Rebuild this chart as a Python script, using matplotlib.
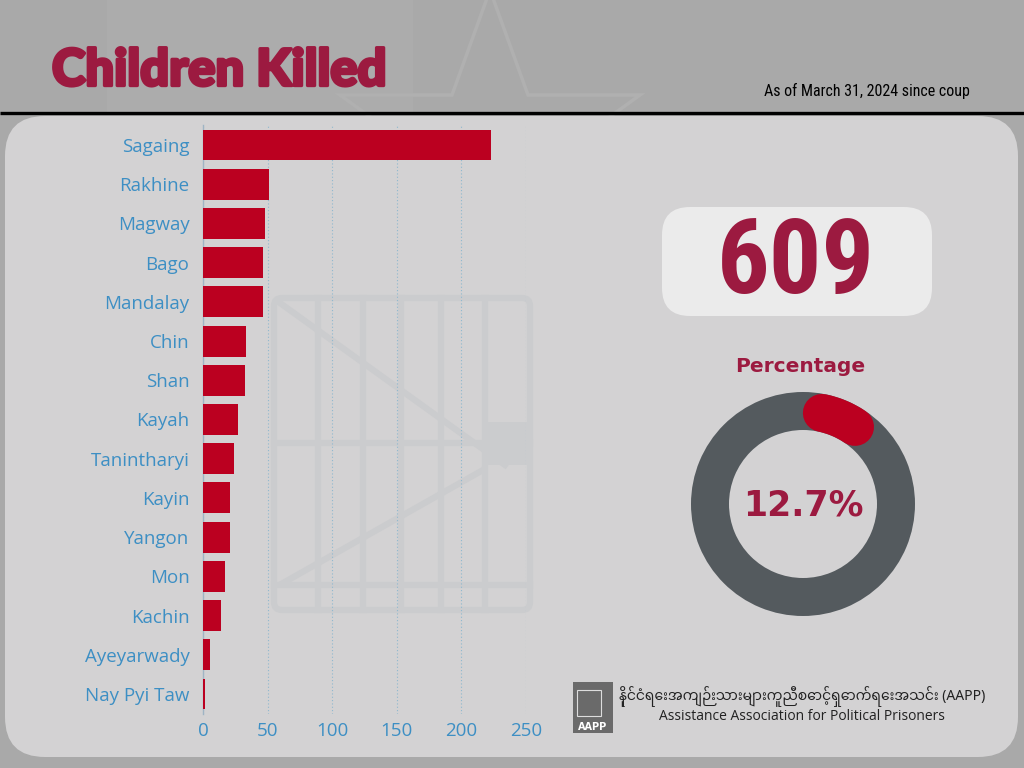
import numpy as np
import matplotlib
matplotlib.use("Agg")
import matplotlib.pyplot as plt
import matplotlib.patheffects as pe
from matplotlib import font_manager
from matplotlib.patches import FancyBboxPatch, Rectangle, Wedge, Polygon

# ── Data ────────────────────────────────────────────────────────────────
regions = ["Sagaing", "Rakhine", "Magway", "Bago", "Mandalay", "Chin", "Shan",
           "Kayah", "Tanintharyi", "Kayin", "Yangon", "Mon", "Kachin",
           "Ayeyarwady", "Nay Pyi Taw"]
children_killed = [223, 51, 48, 46, 46, 33, 32, 27, 24, 21, 21, 17, 14, 5, 1]
x_ticks = [0, 50, 100, 150, 200, 250]
total_killed = 609
share_pct = 12.7

title = "Children Killed"
subtitle = "As of March 31, 2024 since coup"
org_mm = "နိုင်ငံရေးအကျဉ်းသားများကူညီစောင့်ရှောက်ရေးအသင်း (AAPP)"
org_en = "Assistance Association for Political Prisoners"

# ── Style ───────────────────────────────────────────────────────────────
CRIMSON = "#9c1a40"
BAR_RED = "#bb0020"
LABEL_BLUE = "#3d8fc4"
RING_GRAY = "#545a5e"
HEADER_BG = "#a9a9a9"
PANEL_BG = "#d3d2d3"

W, H = 1024, 768
installed = {f.name for f in font_manager.fontManager.ttflist}


def pick(*names):
    for n in names:
        if n in installed:
            return n
    return "DejaVu Sans"


NARROW = pick("Liberation Sans Narrow", "Roboto Condensed", "DejaVu Sans Condensed")
HEAVY = pick("Lato", "DejaVu Sans")
BODY = pick("Open Sans", "Noto Sans", "DejaVu Sans")
MYANMAR = [f for f in ["Noto Sans Myanmar", "Padauk", "Myanmar Text"] if f in installed]

fig = plt.figure(figsize=(W / 100, H / 100), dpi=100, facecolor=HEADER_BG)

# background canvas in pixel coordinates
bg = fig.add_axes([0, 0, 1, 1], zorder=0)
bg.set_xlim(0, W)
bg.set_ylim(H, 0)
bg.axis("off")

bg.add_patch(Rectangle((107, 0), 306, 112, fc="#acacac", ec="none"))
star = [(490, -10), (528, 95), (640, 95), (550, 160), (585, 265),
        (490, 200), (395, 265), (430, 160), (340, 95), (452, 95)]
bg.add_patch(Polygon(star, closed=True, fc="none", ec="#b0b0b0", lw=2.5))
bg.plot([0, W], [112.5, 112.5], color="black", lw=2.4, solid_capstyle="butt")
bg.add_patch(FancyBboxPatch((5, 116), 1013, 641,
                            boxstyle="round,pad=0,rounding_size=40",
                            fc=PANEL_BG, ec="none"))

# faint prison-bar watermark
wm = "#cbccce"
bg.add_patch(FancyBboxPatch((274, 298), 256, 312, boxstyle="round,pad=0,rounding_size=8",
                            fc="none", ec=wm, lw=4.5))
for xv in [318, 363, 401, 441, 485]:
    bg.plot([xv, xv], [298, 610], color=wm, lw=4.5)
for yv in [443, 585]:
    bg.plot([274, 530], [yv, yv], color=wm, lw=4.5)
bg.plot([280, 505], [303, 465], color=wm, lw=4.5)
bg.plot([283, 483], [583, 470], color=wm, lw=4.5)
bg.add_patch(Rectangle((485, 422), 42, 43, fc=wm, ec="none"))

# header texts
bg.text(52, 71, title, ha="left", va="center", fontsize=36.5, fontweight="black",
        color=CRIMSON, family=HEAVY,
        path_effects=[pe.withStroke(linewidth=2.4, foreground=CRIMSON)])
bg.text(970, 91, subtitle, ha="right", va="center", fontsize=11.5,
        color="black", family=NARROW)

# ── Bar chart ───────────────────────────────────────────────────────────
ax = fig.add_axes([203.3 / W, 1 - 713.6 / H, (526 - 203.3) / W, (713.6 - 125.4) / H],
                  zorder=2)
ax.patch.set_alpha(0)
ypos = np.arange(len(regions))
ax.barh(ypos, children_killed, height=0.79, color=BAR_RED, zorder=3)
ax.set_ylim(len(regions) - 0.5, -0.5)
ax.set_xlim(0, 250)
ax.set_yticks(ypos)
ax.set_yticklabels(regions, fontsize=13.5, color=LABEL_BLUE, family=BODY)
ax.set_xticks(x_ticks)
ax.set_xticklabels([str(t) for t in x_ticks], fontsize=13.5, color=LABEL_BLUE,
                   family=BODY)
ax.tick_params(axis="y", length=0, pad=10)
ax.tick_params(axis="x", length=0, pad=6)
for s in ["top", "right", "bottom"]:
    ax.spines[s].set_visible(False)
ax.spines["left"].set_color("#9fb4c4")
ax.spines["left"].set_linewidth(1.0)
ax.grid(axis="x", color="#8fb8cf", lw=0.8, linestyle=(0, (1, 2)), zorder=1)
ax.set_axisbelow(True)

# ── Total box ───────────────────────────────────────────────────────────
bg.add_patch(FancyBboxPatch((662, 207), 270, 109,
                            boxstyle="round,pad=0,rounding_size=28",
                            fc="#ebebeb", ec="none"))
bg.text(796, 264, str(total_killed), ha="center", va="center", fontsize=75,
        fontweight="bold", color=CRIMSON, family=NARROW)
bg.text(800, 367, "Percentage", ha="center", va="center", fontsize=14.5,
        fontweight="bold", color=CRIMSON, family="DejaVu Sans")

# ── Donut ───────────────────────────────────────────────────────────────
cx, cy, r_out, ring = 803, 504, 112, 38
dax = fig.add_axes([(cx - 120) / W, 1 - (cy + 120) / H, 240 / W, 240 / H], zorder=2)
dax.set_xlim(-120, 120)
dax.set_ylim(-120, 120)
dax.axis("off")
dax.add_patch(Wedge((0, 0), r_out, 0, 360, width=ring, fc=RING_GRAY, ec="none"))
r_mid = r_out - ring / 2
cap = np.degrees((ring / 2) / r_mid)
theta = np.radians(np.linspace(90 - cap, 90 - 360 * share_pct / 100 + cap, 60))
dax.plot(r_mid * np.cos(theta), r_mid * np.sin(theta), color=BAR_RED,
         lw=ring * 0.72, solid_capstyle="round")
dax.text(0, -2, f"{share_pct}%", ha="center", va="center", fontsize=25,
         fontweight="bold", color=CRIMSON, family="DejaVu Sans")

# ── Footer logo and organisation name ───────────────────────────────────
bg.add_patch(Rectangle((573, 682), 40, 51, fc="#6a6a6a", ec="none"))
bg.add_patch(Rectangle((577, 690), 24, 26, fc="none", ec="#dddddd", lw=0.8))
bg.text(593, 727, "AAPP", ha="center", va="center", fontsize=7, fontweight="bold",
        color="white", family="DejaVu Sans")
bg.text(802, 697, org_mm, ha="center", va="center", fontsize=10, color="#222222",
        family=MYANMAR + [BODY, "DejaVu Sans"])
bg.text(802, 716, org_en, ha="center", va="center", fontsize=10, color="#222222",
        family=BODY)

fig.savefig("out.png", dpi=100, facecolor=HEADER_BG)
